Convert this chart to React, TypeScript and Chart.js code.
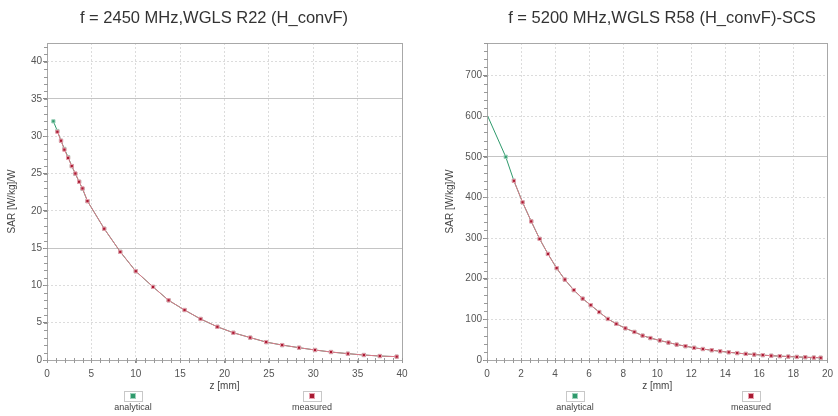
import React, { useEffect, useRef } from "react";
import { Chart, registerables } from "chart.js";

Chart.register(...registerables);

// ---------- data ----------
const leftTitle = "f = 2450 MHz,WGLS R22 (H_convF)";
const rightTitle = "f = 5200 MHz,WGLS R58 (H_convF)-SCS";
const yAxisLabel = "SAR [W/kg]/W";
const xAxisLabel = "z [mm]";
const legendLabels = ["analytical", "measured"];

const leftAnalyticalZ = [0.72, 1.17, 1.58, 1.96, 2.38, 2.79, 3.2, 3.62, 4.0, 4.56, 6.45, 8.26, 10.0, 11.95, 13.7, 15.5, 17.3, 19.2, 21.0, 22.9, 24.7, 26.5, 28.4, 30.2, 32.0, 33.9, 35.7, 37.5, 39.4];
const leftAnalyticalSAR = [32.0, 30.7, 29.4, 28.3, 27.2, 26.0, 24.95, 23.9, 22.95, 21.3, 17.6, 14.5, 11.9, 9.8, 8.0, 6.7, 5.5, 4.45, 3.65, 3.0, 2.4, 2.0, 1.65, 1.34, 1.07, 0.85, 0.67, 0.53, 0.45];
const leftMeasuredZ = [1.17, 1.58, 1.96, 2.38, 2.79, 3.2, 3.62, 4.0, 4.56, 6.45, 8.26, 10.0, 11.95, 13.7, 15.5, 17.3, 19.2, 21.0, 22.9, 24.7, 26.5, 28.4, 30.2, 32.0, 33.9, 35.7, 37.5, 39.4];
const leftMeasuredSAR = [30.6, 29.4, 28.2, 27.1, 26.0, 25.0, 23.9, 23.0, 21.3, 17.6, 14.5, 11.9, 9.8, 8.0, 6.7, 5.5, 4.45, 3.65, 3.0, 2.4, 2.0, 1.65, 1.34, 1.07, 0.85, 0.67, 0.53, 0.45];

const rightAnalyticalZ = [0, 1.1, 1.58, 2.09, 2.6, 3.09, 3.58, 4.09, 4.57, 5.1, 5.62, 6.09, 6.59, 7.1, 7.6, 8.13, 8.66, 9.14, 9.6, 10.15, 10.66, 11.14, 11.66, 12.17, 12.68, 13.2, 13.7, 14.2, 14.7, 15.2, 15.7, 16.2, 16.7, 17.2, 17.7, 18.2, 18.7, 19.2, 19.6];
const rightAnalyticalSAR = [604, 500, 441, 388, 341, 298, 261, 226, 198, 172, 151, 135, 118, 101, 89, 78, 69, 60, 54, 48, 43, 38, 34, 30, 27, 24, 21.5, 19, 17, 15, 13.5, 12, 10.5, 9.5, 8.5, 7.5, 6.8, 6, 5.5];
const rightMeasuredZ = [1.58, 2.09, 2.6, 3.09, 3.58, 4.09, 4.57, 5.1, 5.62, 6.09, 6.59, 7.1, 7.6, 8.13, 8.66, 9.14, 9.6, 10.15, 10.66, 11.14, 11.66, 12.17, 12.68, 13.2, 13.7, 14.2, 14.7, 15.2, 15.7, 16.2, 16.7, 17.2, 17.7, 18.2, 18.7, 19.2, 19.6];
const rightMeasuredSAR = [441, 388, 341, 298, 261, 226, 198, 172, 151, 135, 118, 101, 89, 78, 69, 60, 54, 48, 43, 38, 34, 30, 27, 24, 21.5, 19, 17, 15, 13.5, 12, 10.5, 9.5, 8.5, 7.5, 6.8, 6, 5.5];

const leftXTicks = [0, 5, 10, 15, 20, 25, 30, 35, 40];
const leftYTicks = [0, 5, 10, 15, 20, 25, 30, 35, 40];
const rightXTicks = [0, 2, 4, 6, 8, 10, 12, 14, 16, 18, 20];
const rightYTicks = [0, 100, 200, 300, 400, 500, 600, 700];

// ---------- styles ----------
const FONT = "'Liberation Sans', Arial, sans-serif";
const GREEN = "#2f9a6c";
const RED_FILL = "#a81a32";
const RED_LINE = "#e0788a";

const pts = (xs: number[], ys: number[]) => xs.map((x, i) => ({ x, y: ys[i] }));

const decorPlugin = {
  id: "decor",
  afterDraw(chart: any) {
    const o = chart.options.plugins.decor;
    const { ctx, chartArea } = chart;
    const { left, right, top, bottom } = chartArea;
    ctx.save();
    // frame
    ctx.strokeStyle = "#a8a8a8";
    ctx.lineWidth = 1;
    ctx.setLineDash([]);
    ctx.strokeRect(Math.round(left) + 0.5, Math.round(top) + 0.5, Math.round(right - left), Math.round(bottom - top));
    // minor ticks
    ctx.strokeStyle = "#999";
    const xs = chart.scales.x;
    const ys = chart.scales.y;
    for (let v = xs.min; v <= xs.max + 1e-9; v += o.minorX) {
      const px = Math.round(xs.getPixelForValue(v)) + 0.5;
      ctx.beginPath();
      ctx.moveTo(px, bottom - 2);
      ctx.lineTo(px, bottom + 3);
      ctx.stroke();
    }
    for (let v = ys.min; v <= ys.max + 1e-9; v += o.minorY) {
      const py = Math.round(ys.getPixelForValue(v)) + 0.5;
      ctx.beginPath();
      ctx.moveTo(left - 3, py);
      ctx.lineTo(left + 1, py);
      ctx.stroke();
    }
    // title
    ctx.fillStyle = "#333";
    ctx.font = `16.5px ${FONT}`;
    ctx.textAlign = "center";
    ctx.textBaseline = "middle";
    ctx.fillText(o.title, o.titleX, 18);
    // legend
    o.legend.forEach((it: any) => {
      const bx = it.x - 9;
      const by = 391;
      ctx.fillStyle = "#fff";
      ctx.strokeStyle = "#c8c8c8";
      ctx.strokeRect(bx + 0.5, by + 0.5, 18, 10);
      ctx.fillStyle = it.border;
      ctx.fillRect(it.x - 3, by + 2, 6, 6);
      ctx.fillStyle = it.color;
      ctx.fillRect(it.x - 2, by + 3, 4, 4);
      ctx.fillStyle = "#444";
      ctx.font = `9px ${FONT}`;
      ctx.textAlign = "center";
      ctx.textBaseline = "middle";
      ctx.fillText(it.label, it.x, 408);
    });
    ctx.restore();
  },
};

function makeConfig(p: any) {
  const measured = pts(p.mz, p.ms);
  const analytical = pts(p.az, p.as);
  return {
    type: "scatter",
    data: {
      datasets: [
        {
          label: legendLabels[1],
          data: measured,
          showLine: true,
          borderColor: RED_LINE,
          borderWidth: 1,
          pointStyle: "rect",
          pointRadius: 2.3,
          pointBackgroundColor: RED_FILL,
          pointBorderColor: "#e8a0ae",
          pointBorderWidth: 1,
        },
        {
          label: legendLabels[0],
          data: analytical,
          showLine: true,
          borderColor: GREEN,
          borderWidth: 1,
          pointStyle: "rect",
          pointRadius: (c: any) => (c.raw && c.raw.x > 0 ? 2.3 : 0),
          pointBackgroundColor: GREEN,
          pointBorderColor: "#9fd2bc",
          pointBorderWidth: 1,
        },
      ],
    },
    options: {
      responsive: false,
      animation: false,
      layout: { padding: { top: 43, right: p.padRight, bottom: 22, left: 0 } },
      plugins: {
        legend: { display: false },
        tooltip: { enabled: false },
        title: { display: false },
        decor: {
          title: p.title,
          titleX: p.titleX,
          minorX: p.minorX,
          minorY: p.minorY,
          legend: [
            { label: legendLabels[0], color: GREEN, border: "#9fd2bc", x: p.legX[0] },
            { label: legendLabels[1], color: RED_FILL, border: "#e8a0ae", x: p.legX[1] },
          ],
        },
      },
      scales: {
        x: {
          type: "linear",
          min: p.xTicks[0],
          max: p.xTicks[p.xTicks.length - 1],
          afterFit: (s: any) => { s.height = 34; },
          afterBuildTicks: (s: any) => { s.ticks = p.xTicks.map((v: number) => ({ value: v })); },
          ticks: { font: { size: 10, family: FONT }, color: "#555", padding: 5, maxRotation: 0 },
          grid: {
            color: "#dcdcdc",
            tickColor: "#888",
            tickLength: 3,
          },
          border: { display: false, dash: [2, 2] },
          title: { display: true, text: xAxisLabel, font: { size: 10, family: FONT }, color: "#444", padding: { top: 0, bottom: 2 } },
        },
        y: {
          type: "linear",
          min: 0,
          max: p.yMax,
          afterFit: (s: any) => { s.width = p.yWidth; },
          afterBuildTicks: (s: any) => { s.ticks = p.yTicks.map((v: number) => ({ value: v })); },
          ticks: { font: { size: 10, family: FONT }, color: "#555", padding: 1 },
          grid: {
            color: (c: any) => (c.tick && p.darkY.includes(c.tick.value) ? "#c4c4c4" : "#dcdcdc"),
            tickColor: "#888",
            tickLength: 4,
          },
          border: {
            display: false,
            dash: (c: any) => (c.tick && p.darkY.includes(c.tick.value) ? [] : [2, 2]),
          },
          title: { display: true, text: yAxisLabel, font: { size: 10, family: FONT }, color: "#444", padding: { top: p.yTitlePad, bottom: 0 } },
        },
      },
    },
    plugins: [decorPlugin],
  } as any;
}

function SarChart(props: any) {
  const ref = useRef<HTMLCanvasElement | null>(null);
  useEffect(() => {
    if (!ref.current) return;
    const chart = new Chart(ref.current, makeConfig(props.cfg));
    return () => chart.destroy();
  }, []);
  return (
    <canvas
      ref={ref}
      width={props.width}
      height={416}
      style={{ position: "absolute", left: props.left, top: 0, width: props.width, height: 416 }}
    />
  );
}

export default function App() {
  const leftCfg = {
    title: leftTitle, titleX: 214,
    az: leftAnalyticalZ, as: leftAnalyticalSAR, mz: leftMeasuredZ, ms: leftMeasuredSAR,
    xTicks: leftXTicks, yTicks: leftYTicks, yMax: 42.5, yWidth: 47, padRight: 18,
    minorX: 1, minorY: 1, darkY: [15, 35], legX: [133, 312], yTitlePad: 6,
  };
  const rightCfg = {
    title: rightTitle, titleX: 242,
    az: rightAnalyticalZ, as: rightAnalyticalSAR, mz: rightMeasuredZ, ms: rightMeasuredSAR,
    xTicks: rightXTicks, yTicks: rightYTicks, yMax: 780, yWidth: 67, padRight: 1,
    minorX: 0.5, minorY: 20, darkY: [500], legX: [155, 331], yTitlePad: 24,
  };
  return (
    <div style={{ position: "fixed", left: 0, top: 0, width: 838, height: 416, background: "#fff", overflow: "hidden" }}>
      <SarChart cfg={leftCfg} left={0} width={420} />
      <SarChart cfg={rightCfg} left={420} width={418} />
    </div>
  );
}
